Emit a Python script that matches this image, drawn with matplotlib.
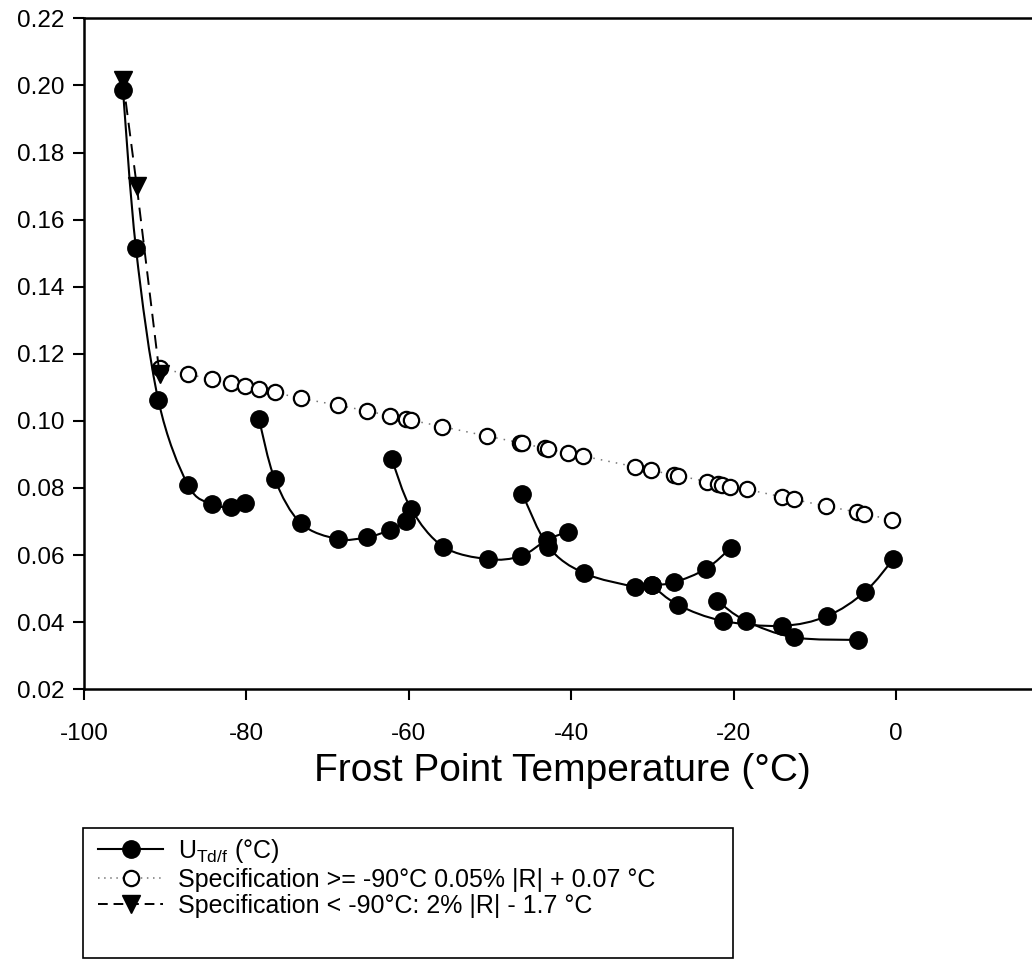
import numpy as np
import matplotlib
matplotlib.use("Agg")
import matplotlib.pyplot as plt
from matplotlib.path import Path
from matplotlib.patches import PathPatch, Rectangle
from matplotlib.lines import Line2D

plt.rcParams['font.family'] = ['Liberation Sans', 'DejaVu Sans']
plt.rcParams['mathtext.fontset'] = 'custom'
plt.rcParams['mathtext.rm'] = 'Liberation Sans'
plt.rcParams['mathtext.it'] = 'Liberation Sans:italic'

# ---- data: U_Td/f runs (filled circles, smooth lines) ----
segA_x = [-95.2, -93.6, -90.85, -87.2, -84.2, -81.9, -80.2]
segA_y = [0.1986, 0.1514, 0.1062, 0.0809, 0.0752, 0.0743, 0.0756]
segB_x = [-78.45, -76.5, -73.3, -68.75, -65.2, -62.3, -60.3]
segB_y = [0.1005, 0.0826, 0.0695, 0.0648, 0.0653, 0.0675, 0.0703]
segC_x = [-62.1, -59.7, -55.75, -50.3, -46.2, -43.0, -40.4]
segC_y = [0.0886, 0.0737, 0.0625, 0.0588, 0.0597, 0.0645, 0.0670]
segD_x = [-46.0, -42.8, -38.4, -32.1, -30.1, -27.3, -23.4, -20.3]
segD_y = [0.0781, 0.0625, 0.0546, 0.0506, 0.0510, 0.0519, 0.0559, 0.0622]
segE_x = [-30.1, -26.8, -21.35, -14.1, -8.5, -3.8, -0.33]
segE_y = [0.0510, 0.0451, 0.0404, 0.0389, 0.0418, 0.0491, 0.0588]
segF_x = [-22.0, -18.5, -12.6, -4.7]
segF_y = [0.0463, 0.0404, 0.0355, 0.0347]

# ---- Specification >= -90 °C (open circles) ----
spec_hi_x = [-90.7, -87.2, -84.2, -81.9, -80.2, -78.45, -76.5, -73.3, -68.75, -65.2,
             -62.3, -60.3, -59.7, -55.9, -50.4, -46.3, -46.0, -43.2, -42.9, -40.4,
             -38.5, -32.1, -30.2, -27.4, -26.8, -23.3, -21.9, -21.4, -20.4, -18.4,
             -14.1, -12.6, -8.6, -4.8, -3.9, -0.5]
spec_hi_y = [0.1157, 0.1139, 0.1124, 0.1112, 0.1104, 0.1095, 0.1085, 0.1067, 0.1047, 0.1030,
             0.1015, 0.1005, 0.1002, 0.0983, 0.0955, 0.0935, 0.0933, 0.0918, 0.0916, 0.0905,
             0.0895, 0.0863, 0.0853, 0.0839, 0.0837, 0.0819, 0.0812, 0.0808, 0.0804, 0.0796,
             0.0774, 0.0766, 0.0746, 0.0728, 0.0723, 0.0705]

# ---- Specification < -90 °C (triangles) ----
spec_lo_x = [-95.2, -93.5, -90.7]
spec_lo_y = [0.2015, 0.170, 0.114]

x_ticks = [-100, -80, -60, -40, -20, 0]
y_ticks = [0.02, 0.04, 0.06, 0.08, 0.10, 0.12, 0.14, 0.16, 0.18, 0.20, 0.22]

labels = [r'U$_{\mathrm{Td/f}}$ (°C)',
          'Specification >= -90°C 0.05% |R| + 0.07 °C',
          'Specification < -90°C: 2% |R| - 1.7 °C']


def smooth_path(xs, ys):
    pts = np.column_stack([xs, ys])
    n = len(pts)
    verts = [pts[0]]
    codes = [Path.MOVETO]
    for i in range(n - 1):
        p0 = pts[i - 1] if i > 0 else pts[i]
        p1 = pts[i]
        p2 = pts[i + 1]
        p3 = pts[i + 2] if i + 2 < n else pts[i + 1]
        c1 = p1 + (p2 - p0) / 6.0
        c2 = p2 - (p3 - p1) / 6.0
        verts += [c1, c2, p2]
        codes += [Path.CURVE4] * 3
    return Path(verts, codes)


W, H = 1032, 976
fig = plt.figure(figsize=(W / 100, H / 100), dpi=100)
ax = fig.add_axes([84 / W, 1 - 689.3 / H, 974.4 / W, (689.3 - 18.3) / H])
ax.set_xlim(-100, 20)
ax.set_ylim(0.02, 0.22)

# spec >= -90 line + open circles
ax.plot(spec_hi_x, spec_hi_y, linestyle=(0, (1, 4)), color='#777777', lw=1.1, zorder=2)
ax.plot(spec_hi_x, spec_hi_y, linestyle='none', marker='o', ms=11, mfc='white',
        mec='black', mew=1.6, zorder=3)

# main runs
for sx, sy in [(segA_x, segA_y), (segB_x, segB_y), (segC_x, segC_y),
               (segD_x, segD_y), (segE_x, segE_y), (segF_x, segF_y)]:
    ax.add_patch(PathPatch(smooth_path(sx, sy), fill=False, edgecolor='black', lw=1.5, zorder=4))
    ax.plot(sx, sy, linestyle='none', marker='o', ms=12.5, color='black', zorder=5)

# spec < -90
ax.plot(spec_lo_x, spec_lo_y, linestyle=(0, (7, 4)), color='black', lw=1.4, zorder=4,
        marker='v', ms=12.5, mfc='black', mec='black')

ax.set_xticks(x_ticks)
ax.set_xticklabels([str(v) for v in x_ticks])
ax.set_yticks(y_ticks)
ax.set_yticklabels([f'{v:.2f}' for v in y_ticks])
ax.tick_params(axis='both', direction='out', length=8, width=1.5, labelsize=17.5)
ax.tick_params(axis='x', pad=16)
ax.tick_params(axis='y', pad=6)
ax.spines['right'].set_visible(False)
for s in ['left', 'bottom', 'top']:
    ax.spines[s].set_linewidth(1.8)

fig.text(562 / W, 1 - 771 / H, 'Frost Point Temperature (°C)', fontsize=28,
         ha='center', va='center')

# legend frame (drawn separately, extra room at the bottom as in the reference)
fig.add_artist(Rectangle((83 / W, 1 - 958 / H), 650 / W, 130 / H, transform=fig.transFigure,
                         fill=False, edgecolor='black', lw=1.2))

handles = [
    Line2D([], [], color='black', lw=1.5, marker='o', ms=12.5),
    Line2D([], [], color='#777777', lw=1.1, linestyle=(0, (1, 3)), marker='o', ms=11,
           mfc='white', mec='black', mew=1.6),
    Line2D([], [], color='black', lw=1.4, linestyle=(0, (5, 3)), marker='v', ms=12.5,
           mfc='black', mec='black'),
]
leg = fig.legend(handles, labels, loc='upper left',
                 bbox_to_anchor=(98 / W, 1 - 837 / H),
                 fontsize=18, frameon=False,
                 handlelength=2.6, handletextpad=0.6, borderpad=0, labelspacing=0.1,
                 borderaxespad=0)

fig.savefig('out.png', dpi=100)
